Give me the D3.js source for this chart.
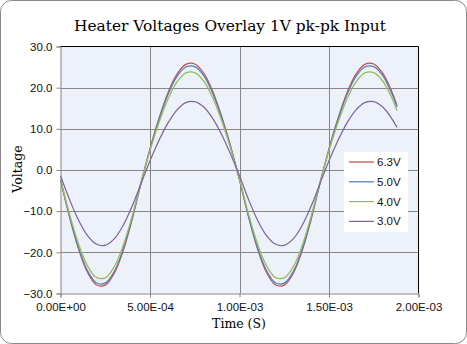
<!DOCTYPE html>
<html>
<head>
<meta charset="utf-8">
<script src="https://cdn.jsdelivr.net/npm/d3@7"></script>
<style>
  html, body { margin: 0; padding: 0; background: #fff; }
  svg { display: block; }
</style>
</head>
<body>
<svg id="chart" width="467" height="344"></svg>
<script>
// Sample times (seconds)
const times = [
  0, 5e-5, 1.0e-4, 1.5e-4, 2.0e-4, 2.5e-4, 3.0e-4, 3.5e-4, 4.0e-4, 4.5e-4,
  5.0e-4, 5.5e-4, 6.0e-4, 6.5e-4, 7.0e-4, 7.5e-4, 8.0e-4, 8.5e-4, 9.0e-4, 9.5e-4,
  1.0e-3, 1.05e-3, 1.1e-3, 1.15e-3, 1.2e-3, 1.25e-3, 1.3e-3, 1.35e-3, 1.4e-3, 1.45e-3,
  1.5e-3, 1.55e-3, 1.6e-3, 1.65e-3, 1.7e-3, 1.75e-3, 1.8e-3, 1.85e-3, 1.88e-3
];

// Measured heater voltages (V) for each heater setting
const v63 = [
  -2.41, -11.34, -19.07, -24.78, -27.86, -27.98, -25.13, -19.61, -12.02, -3.14,
  5.15, 12.50, 18.72, 23.24, 25.65, 25.75, 23.51, 19.14, 13.05, 5.76,
  -2.41, -11.34, -19.07, -24.78, -27.86, -27.98, -25.13, -19.61, -12.02, -3.14,
  5.15, 12.50, 18.72, 23.24, 25.65, 25.75, 23.51, 19.14, 15.66
];
const v50 = [
  -2.36, -11.14, -18.74, -24.34, -27.37, -27.49, -24.69, -19.26, -11.80, -3.09,
  5.02, 12.19, 18.25, 22.66, 25.01, 25.11, 22.93, 18.66, 12.72, 5.62,
  -2.36, -11.14, -18.74, -24.34, -27.37, -27.49, -24.69, -19.26, -11.80, -3.09,
  5.02, 12.19, 18.25, 22.66, 25.01, 25.11, 22.93, 18.66, 15.27
];
const v40 = [
  -2.25, -10.62, -17.86, -23.21, -26.09, -26.20, -23.53, -18.36, -11.25, -2.94,
  4.73, 11.49, 17.21, 21.36, 23.58, 23.67, 21.62, 17.59, 11.99, 5.30,
  -2.25, -10.62, -17.86, -23.21, -26.09, -26.20, -23.53, -18.36, -11.25, -2.94,
  4.73, 11.49, 17.21, 21.36, 23.58, 23.67, 21.62, 17.59, 14.40
];
const v30 = [
  -1.41, -7.12, -12.11, -15.86, -17.99, -18.29, -16.73, -13.47, -8.82, -3.28,
  2.26, 7.17, 11.40, 14.56, 16.36, 16.61, 15.30, 12.55, 8.62, 3.87,
  -1.41, -7.12, -12.11, -15.86, -17.99, -18.29, -16.73, -13.47, -8.82, -3.28,
  2.26, 7.17, 11.40, 14.56, 16.36, 16.61, 15.30, 12.55, 10.31
];

const seriesNames = ["6.3V", "5.0V", "4.0V", "3.0V"];
const seriesColors = ["#C0504D", "#4F81BD", "#9BBB59", "#8064A2"];
const seriesValues = [v63, v50, v40, v30];

const xTicks = [0, 5e-4, 1e-3, 1.5e-3, 2e-3];
const yTicks = [-30, -20, -10, 0, 10, 20, 30];

const title = "Heater Voltages Overlay 1V pk-pk Input";
const xTitle = "Time (S)";
const yTitle = "Voltage";

const W = 467, H = 344;
const plot = { left: 60.5, right: 418.5, top: 46.5, bottom: 293.5 };

const svg = d3.select("#chart");

// Chart frame
svg.append("rect")
  .attr("x", 0.5).attr("y", 0.5)
  .attr("width", W - 1).attr("height", H - 1)
  .attr("rx", 11).attr("ry", 11)
  .attr("fill", "#fff")
  .attr("stroke", "#8a8a8a")
  .attr("stroke-width", 1);

const x = d3.scaleLinear().domain([0, 2e-3]).range([plot.left, plot.right]);
const y = d3.scaleLinear().domain([-30, 30]).range([plot.bottom, plot.top]);

// Plot background
svg.append("rect")
  .attr("x", plot.left).attr("y", plot.top)
  .attr("width", plot.right - plot.left)
  .attr("height", plot.bottom - plot.top)
  .attr("fill", "#EDF1F9");

// Gridlines
const grid = svg.append("g").attr("stroke", "#878787").attr("stroke-width", 1);
grid.selectAll("line.h").data(yTicks.filter(d => d > -30 && d < 30)).join("line")
  .attr("x1", plot.left).attr("x2", plot.right)
  .attr("y1", d => Math.round(y(d)) + 0.5).attr("y2", d => Math.round(y(d)) + 0.5);
grid.selectAll("line.v").data(xTicks.filter(d => d > 0 && d < 2e-3)).join("line")
  .attr("y1", plot.top).attr("y2", plot.bottom)
  .attr("x1", d => Math.round(x(d)) + 0.5).attr("x2", d => Math.round(x(d)) + 0.5);

// Top and right plot border
svg.append("path")
  .attr("d", `M${plot.left},${plot.top}H${plot.right}V${plot.bottom}`)
  .attr("fill", "none").attr("stroke", "#000").attr("stroke-width", 1);

// Series lines
const line = d3.line()
  .x((d, i) => x(times[i]))
  .y(d => y(d))
  .curve(d3.curveCatmullRom.alpha(0.5));

svg.append("g").selectAll("path").data(seriesValues).join("path")
  .attr("d", d => line(d))
  .attr("fill", "none")
  .attr("stroke", (d, i) => seriesColors[i])
  .attr("stroke-width", 1.25);

// Axes
const yAxis = d3.axisLeft(y).tickValues(yTicks).tickFormat(d3.format(".1f")).tickSize(4).tickPadding(4);
const xAxis = d3.axisBottom(x).tickValues(xTicks)
  .tickFormat(d => {
    if (d === 0) return "0.00E+00";
    const e = Math.floor(Math.log10(d));
    const m = d / Math.pow(10, e);
    return m.toFixed(2) + "E-" + String(-e).padStart(2, "0");
  })
  .tickSize(4).tickPadding(5);

const gy = svg.append("g").attr("transform", `translate(${plot.left},0)`).call(yAxis);
const gx = svg.append("g").attr("transform", `translate(0,${plot.bottom})`).call(xAxis);
[gx, gy].forEach(g => {
  g.select(".domain").attr("stroke", "#868686");
  g.selectAll(".tick line").attr("stroke", "#868686");
  g.selectAll("text")
    .attr("fill", "#111")
    .style("font-family", "'Liberation Sans', Arial, sans-serif")
    .style("font-size", "11.5px");
});

// Title
const titleText = svg.append("text")
  .attr("x", 230).attr("y", 31)
  .attr("text-anchor", "middle")
  .style("font-family", "'DejaVu Serif', 'Liberation Serif', serif")
  .style("font-size", "15px")
  .attr("fill", "#000")
  .text(title);
const tw = titleText.node().getComputedTextLength();
titleText.style("font-size", (15 * 312 / tw).toFixed(2) + "px");

// Axis titles
svg.append("text")
  .attr("x", 239).attr("y", 328)
  .attr("text-anchor", "middle")
  .style("font-family", "'DejaVu Serif', 'Liberation Serif', serif")
  .style("font-size", "12.5px")
  .attr("fill", "#000")
  .text(xTitle);

svg.append("text")
  .attr("transform", "translate(22,169) rotate(-90)")
  .attr("text-anchor", "middle")
  .style("font-family", "'DejaVu Serif', 'Liberation Serif', serif")
  .style("font-size", "12.5px")
  .attr("fill", "#000")
  .text(yTitle);

// Legend
const legend = svg.append("g");
legend.append("rect")
  .attr("x", 344).attr("y", 152)
  .attr("width", 64).attr("height", 80)
  .attr("fill", "#fff");
const items = legend.selectAll("g.item").data(seriesNames).join("g")
  .attr("transform", (d, i) => `translate(0,${162 + i * 19.8})`);
items.append("line")
  .attr("x1", 349).attr("x2", 374)
  .attr("y1", 0).attr("y2", 0)
  .attr("stroke", (d, i) => seriesColors[i])
  .attr("stroke-width", 1.25);
items.append("text")
  .attr("x", 377).attr("y", 4)
  .style("font-family", "'Liberation Sans', Arial, sans-serif")
  .style("font-size", "11.5px")
  .attr("fill", "#111")
  .text(d => d);
</script>
</body>
</html>
